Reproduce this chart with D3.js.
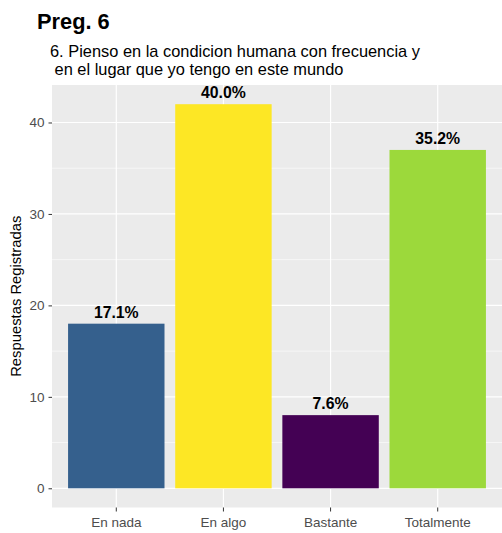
<!DOCTYPE html>
<html><head><meta charset="utf-8">
<script src="https://cdn.jsdelivr.net/npm/d3@7"></script>
<style>body{margin:0;background:#fff}svg{display:block;font-family:Arial,"Liberation Sans",sans-serif}</style>
</head><body><svg id="c" width="502" height="533"></svg>
<script>
const categories = ["En nada","En algo","Bastante","Totalmente"];
const counts = [18,42,8,37];
const pctLabels = ["17.1%","40.0%","7.6%","35.2%"];
const colors = ["#35608D","#FDE725","#440154","#9CD93B"];
const yTicks = [0,10,20,30,40];
const yMinor = [5,15,25,35];

const svg = d3.select("#c");
const L = 52, R = 502, T = 85, B = 507.5;
const x = d3.scaleBand().domain(categories).range([L, R]).paddingInner(0.1).paddingOuter(0.15);
const y = d3.scaleLinear().domain([-2.1, 44.1]).range([B, T]);

svg.append("rect").attr("x",L).attr("y",T).attr("width",R-L).attr("height",B-T).attr("fill","#EBEBEB");
svg.selectAll(".gm").data(yMinor).enter().append("line")
  .attr("x1",L).attr("x2",R).attr("y1",d=>y(d)).attr("y2",d=>y(d)).attr("stroke","#fff").attr("stroke-width",0.6);
svg.selectAll(".gy").data(yTicks).enter().append("line")
  .attr("x1",L).attr("x2",R).attr("y1",d=>y(d)).attr("y2",d=>y(d)).attr("stroke","#fff").attr("stroke-width",1.2);
svg.selectAll(".gx").data(categories).enter().append("line")
  .attr("x1",d=>x(d)+x.bandwidth()/2).attr("x2",d=>x(d)+x.bandwidth()/2).attr("y1",T).attr("y2",B).attr("stroke","#fff").attr("stroke-width",1.2);

svg.selectAll(".bar").data(categories).enter().append("rect")
  .attr("x",d=>x(d)).attr("width",x.bandwidth())
  .attr("y",(d,i)=>y(counts[i])).attr("height",(d,i)=>y(0)-y(counts[i]))
  .attr("fill",(d,i)=>colors[i]);

svg.selectAll(".lab").data(categories).enter().append("text")
  .attr("x",d=>x(d)+x.bandwidth()/2).attr("y",(d,i)=>y(counts[i])-6)
  .attr("text-anchor","middle").attr("font-size","15.8px").attr("font-weight","bold").attr("fill","#000")
  .text((d,i)=>pctLabels[i]);

const ya = svg.append("g").attr("transform",`translate(${L},0)`)
  .call(d3.axisLeft(y).tickValues(yTicks).tickSize(3.5).tickPadding(4));
ya.select(".domain").remove();
ya.selectAll("line").attr("stroke","#333");
ya.selectAll("text").attr("font-size","13.5px").attr("fill","#4D4D4D").attr("font-family","Arial,'Liberation Sans',sans-serif");

const xa = svg.append("g").attr("transform",`translate(0,${B})`)
  .call(d3.axisBottom(x).tickSize(4).tickPadding(5.5));
xa.select(".domain").remove();
xa.selectAll("line").attr("stroke","#333");
xa.selectAll("text").attr("font-size","13.5px").attr("fill","#4D4D4D").attr("font-family","Arial,'Liberation Sans',sans-serif");

svg.append("text").attr("transform",`translate(21,${(T+B)/2}) rotate(-90)`)
  .attr("text-anchor","middle").attr("font-size","14.8px").attr("fill","#000").text("Respuestas Registradas");

svg.append("text").attr("x",37).attr("y",29).attr("font-size","21.8px").attr("font-weight","bold").attr("fill","#000").text("Preg. 6");
svg.append("text").attr("x",50).attr("y",57).attr("font-size","16.4px").attr("fill","#000").text("6. Pienso en la condicion humana con frecuencia y");
svg.append("text").attr("x",50).attr("y",75).attr("font-size","16.4px").attr("fill","#000").attr("xml:space","preserve").text(" en el lugar que yo tengo en este mundo");
</script></body></html>
